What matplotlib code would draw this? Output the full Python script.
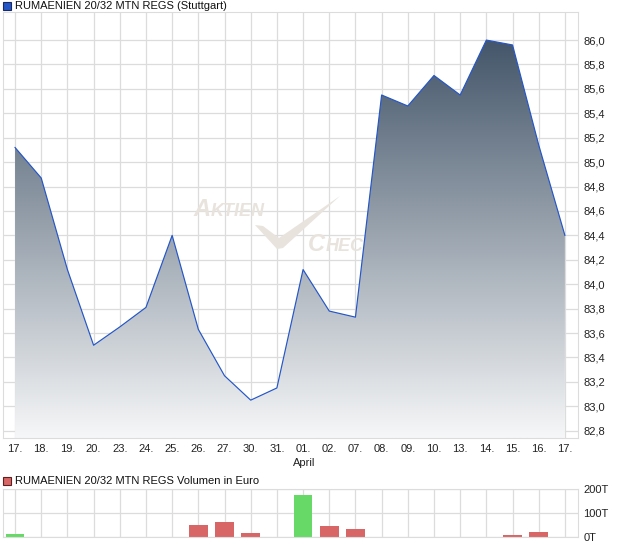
import numpy as np
import matplotlib
matplotlib.use("Agg")
import matplotlib.pyplot as plt
from matplotlib.patches import Rectangle, Polygon

plt.rcParams['font.family'] = ['Liberation Sans', 'DejaVu Sans']

# Kursdaten (Stuttgart)
dates = ["17.", "18.", "19.", "20.", "23.", "24.", "25.", "26.", "27.", "30.", "31.",
         "01.", "02.", "07.", "08.", "09.", "10.", "13.", "14.", "15.", "16.", "17."]
prices = [85.12, 84.87, 84.12, 83.50, 83.65, 83.81, 84.40, 83.63, 83.25, 83.05, 83.15,
          84.12, 83.78, 83.73, 85.55, 85.46, 85.71, 85.55, 86.00, 85.96, 85.14, 84.40]
# Volumen in Tausend Euro, Farbe: steigend / fallend
volume = [11, 0, 0, 0, 0, 0, 0, 49, 62, 17, 0,
          175, 45, 32, 0, 0, 0, 0, 0, 7, 20, 0]
vol_up = [True, False, False, False, False, False, False, False, False, False, False,
          True, False, False, False, False, False, False, False, False, False, False]
y_ticks = [82.8, 83.0, 83.2, 83.4, 83.6, 83.8, 84.0, 84.2, 84.4, 84.6, 84.8,
           85.0, 85.2, 85.4, 85.6, 85.8, 86.0]
vol_ticks = [0, 100, 200]
vol_labels = ["0T", "100T", "200T"]

W, H = 620, 546
grid_c = "#dcdcdc"
wm_c = "#e8e3dd"
fig = plt.figure(figsize=(6.2, 5.46), dpi=100)

# ---- Kurs-Chart ----
ax = fig.add_axes([3/W, 1-438/H, 575/W, 426/H])
x = np.arange(len(prices))
ymin, ymax = 82.74, 86.23
ax.set_xlim(-0.46, len(prices) - 1 + 0.5)
ax.set_ylim(ymin, ymax)

# gradient fill under the line
grad = np.linspace(0, 1, 256).reshape(-1, 1)
cmap = matplotlib.colors.LinearSegmentedColormap.from_list("g", ["#f6f7f8", "#44566a"])
img = ax.imshow(grad, extent=[x[0], x[-1], ymin, 86.0], origin="lower",
                aspect="auto", cmap=cmap, zorder=2)
poly = ax.fill_between(x, prices, ymin, color="none", lw=0)
clip = matplotlib.patches.PathPatch(poly.get_paths()[0], transform=ax.transData,
                                    facecolor="none", edgecolor="none")
ax.add_patch(clip)
img.set_clip_path(clip)
ax.plot(x, prices, color="#2456c8", lw=0.85, zorder=3)

ax.set_xticks(x)
ax.set_xticklabels(dates)
ax.set_yticks(y_ticks)
ax.set_yticklabels([("%.1f" % v).replace(".", ",") for v in y_ticks])
ax.yaxis.tick_right()
ax.tick_params(axis="both", length=0, labelsize=8, colors="#222222")
ax.tick_params(axis="y", pad=4)
ax.tick_params(axis="x", pad=4)
ax.grid(True, color=grid_c, lw=0.9, zorder=0)
ax.set_axisbelow(True)
for s in ax.spines.values():
    s.set_color(grid_c)
fig.text(304/W, 1-463/H, "April", ha="center", va="center", fontsize=8, color="#222222")

# watermark, between grid and fill
tf = fig.transFigure
ax.text(193/W, 1-216/H, "A", transform=tf, fontsize=17, color=wm_c, style="italic",
        weight="bold", zorder=1)
ax.text(211/W, 1-216/H, "KTIEN", transform=tf, fontsize=13, color=wm_c, style="italic",
        weight="bold", zorder=1)
ax.text(308/W, 1-251/H, "C", transform=tf, fontsize=17, color=wm_c, style="italic",
        weight="bold", zorder=1)
ax.text(326/W, 1-251/H, "HECK", transform=tf, fontsize=13, color=wm_c, style="italic",
        weight="bold", zorder=1)
check = [(255, 225), (263, 226), (279, 238), (340, 196), (283, 248), (277, 249)]
ax.add_patch(Polygon([(px/W, 1-py/H) for px, py in check], closed=True,
                     transform=tf, facecolor=wm_c, edgecolor="none", zorder=1))

# legend header
fig.patches.append(Rectangle((3/W, 1-10/H), 8/W, 8/H, transform=tf,
                             facecolor="#2456c8", edgecolor="#1a2a60", lw=0.8))
fig.text(15/W, 1-6/H, "RUMAENIEN 20/32 MTN REGS (Stuttgart)", fontsize=8,
         va="center", color="#111111")

# ---- Volumen-Chart ----
av = fig.add_axes([3/W, 1-537/H, 575/W, 48/H])
colors = ["#66d966" if up else "#d96666" for up in vol_up]
av.bar(x, volume, width=0.72, color=colors, zorder=2)
av.set_xlim(-0.46, len(prices) - 1 + 0.5)
av.set_ylim(0, 200)
av.set_xticks(x)
av.set_xticklabels([])
av.set_yticks(vol_ticks)
av.set_yticklabels(vol_labels)
av.yaxis.tick_right()
av.tick_params(axis="both", length=0, labelsize=8, colors="#222222", pad=4)
av.grid(True, color=grid_c, lw=0.9, zorder=0)
av.set_axisbelow(True)
for s in av.spines.values():
    s.set_color(grid_c)

fig.patches.append(Rectangle((3/W, 1-485/H), 8/W, 8/H, transform=tf,
                             facecolor="#d96666", edgecolor="#602020", lw=0.8))
fig.text(15/W, 1-481/H, "RUMAENIEN 20/32 MTN REGS Volumen in Euro", fontsize=8,
         va="center", color="#111111")

fig.savefig("out.png", dpi=100)
